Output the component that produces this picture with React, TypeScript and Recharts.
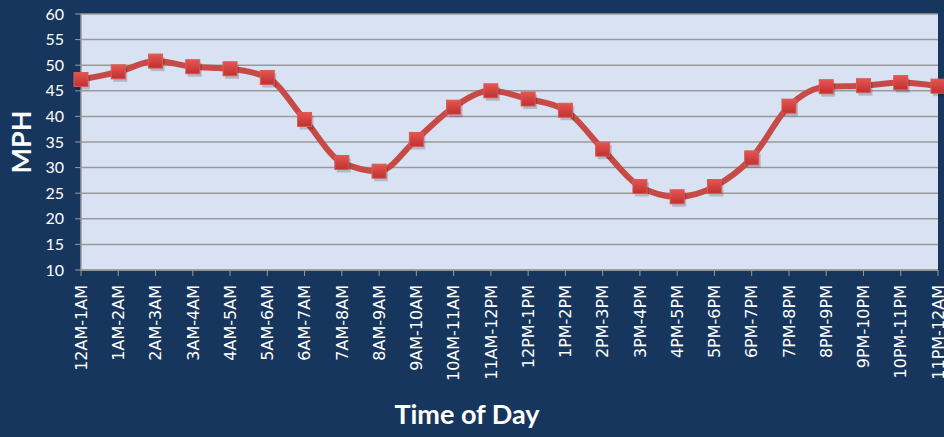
import React from 'react';
import { LineChart, Line, XAxis, YAxis, CartesianGrid, Label } from 'recharts';

const categories = [
  '12AM-1AM', '1AM-2AM', '2AM-3AM', '3AM-4AM', '4AM-5AM', '5AM-6AM',
  '6AM-7AM', '7AM-8AM', '8AM-9AM', '9AM-10AM', '10AM-11AM', '11AM-12PM',
  '12PM-1PM', '1PM-2PM', '2PM-3PM', '3PM-4PM', '4PM-5PM', '5PM-6PM',
  '6PM-7PM', '7PM-8PM', '8PM-9PM', '9PM-10PM', '10PM-11PM', '11PM-12AM',
];
const mph = [
  47.2, 48.7, 50.8, 49.7, 49.3, 47.6,
  39.4, 31.0, 29.3, 35.5, 41.8, 45.0,
  43.4, 41.2, 33.6, 26.3, 24.3, 26.3,
  31.9, 42.0, 45.8, 46.0, 46.6, 45.9,
];
const yTicks = [10, 15, 20, 25, 30, 35, 40, 45, 50, 55, 60];

const data = categories.map((c, i) => ({ time: c, mph: mph[i] }));

const BG = '#17365D';
const PLOT = '#D9E2F2';
const GRID = '#9A9A9A';
const LINE = '#C64A46';

const XTick = (props: any) => {
  const { x, y, payload } = props;
  return (
    <text
      x={x}
      y={y + 7}
      transform={`rotate(-90, ${x}, ${y + 7})`}
      textAnchor="end"
      dy="0.36em"
      fill="#FFFFFF"
      fontSize={16}
      fontFamily="DejaVu Sans, Verdana, sans-serif"
    >
      {payload.value}
    </text>
  );
};

const SquareDot = (props: any) => {
  const { cx, cy, index } = props;
  if (cx == null || cy == null) return <g key={`d-${index}`} />;
  const s = 14;
  return (
    <g key={`d-${index}`}>
      <rect x={cx - s / 2 + 2} y={cy - s / 2 + 3} width={s} height={s} fill="#000" opacity={0.18} />
      <rect x={cx - s / 2} y={cy - s / 2} width={s} height={s} fill="url(#mk)" stroke="#D85A57" strokeWidth={1} />
    </g>
  );
};

export default function App() {
  return (
    <div style={{ width: 944, height: 437, background: BG }}>
      <style>{`body{margin:0}`}</style>
      <LineChart width={944} height={437} data={data} margin={{ top: 14, right: 6, left: 0, bottom: 0 }}>
        <defs>
          <linearGradient id="mk" x1="0" y1="0" x2="0" y2="1">
            <stop offset="0%" stopColor="#E55552" />
            <stop offset="100%" stopColor="#C0302E" />
          </linearGradient>
        </defs>
        <CartesianGrid vertical={false} fill={PLOT} stroke={GRID} strokeWidth={1.5} />
        <XAxis
          dataKey="time"
          interval={0}
          height={167}
          tick={<XTick />}
          tickSize={6}
          stroke={GRID}
          tickLine={{ stroke: GRID }}
          axisLine={{ stroke: GRID, strokeWidth: 1.5 }}
        >
          <Label
            content={(p: any) => {
              const vb = p.viewBox;
              return (
                <text
                  x={467}
                  y={vb.y + vb.height - 13}
                  textAnchor="middle"
                  fill="#FFFFFF"
                  fontSize={27}
                  fontWeight="bold"
                  fontFamily="Lato, sans-serif"
                >
                  Time of Day
                </text>
              );
            }}
          />
        </XAxis>
        <YAxis
          domain={[10, 60]}
          ticks={yTicks}
          width={81}
          tickSize={6}
          tickMargin={11}
          tick={{ fill: '#FFFFFF', fontSize: 16, fontFamily: 'Lato, sans-serif' }}
          tickLine={{ stroke: GRID }}
          axisLine={{ stroke: GRID, strokeWidth: 1.5 }}
          allowDataOverflow
        >
          <Label
            content={(p: any) => {
              const vb = p.viewBox;
              const cy = vb.y + vb.height / 2;
              return (
                <text
                  x={21}
                  y={cy}
                  transform={`rotate(-90, 21, ${cy})`}
                  textAnchor="middle"
                  dy="0.36em"
                  fill="#FFFFFF"
                  fontSize={27}
                  fontWeight="bold"
                  fontFamily="Lato, sans-serif"
                >
                  MPH
                </text>
              );
            }}
          />
        </YAxis>
        <Line
          type="monotone"
          dataKey="mph"
          stroke={LINE}
          strokeWidth={6}
          dot={(p: any) => <SquareDot {...p} />}
          activeDot={false}
          isAnimationActive={false}
        />
      </LineChart>
    </div>
  );
}
